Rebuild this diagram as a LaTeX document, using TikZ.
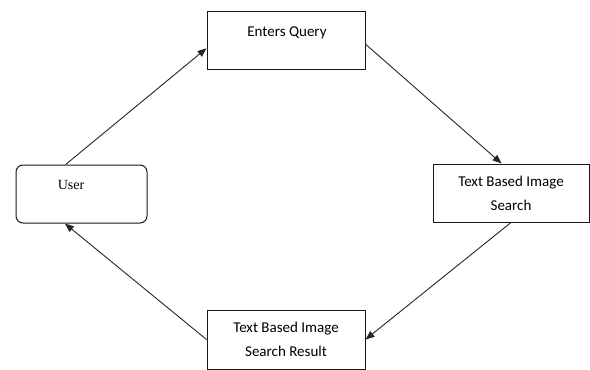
\documentclass[tikz,border=0pt]{standalone}
\usepackage{fontspec}
\setmainfont{Liberation Serif}
\newfontfamily\calib{Carlito}
\usetikzlibrary{arrows.meta,calc}
\begin{document}
\begin{tikzpicture}[x=1pt,y=-1pt,
  box/.style={draw=black!90,line width=1pt,minimum width=158pt,minimum height=58pt,inner sep=0pt,align=center,font=\calib\fontsize{15}{24}\selectfont},
  conn/.style={draw=black!85,line width=0.9pt,-{Triangle[length=9pt,width=7pt]}}]
\useasboundingbox (0,0) rectangle (590,370);
\node[box,rounded corners=7pt,minimum width=131pt] (user) at (81.5,194) {};
\node[font=\fontsize{14}{16}\selectfont] (userlabel) at (71,185) {User};
\node[box] (enters) at (286,40) {};
\node[font=\calib\fontsize{15}{18}\selectfont] (enterslabel) at (287,33) {Enters Query};
\node[box,minimum width=156pt] (tbis) at (511,193) {Text Based Image\\Search};
\node[box,minimum height=59pt] (tbsr) at (286,339.5) {Text Based Image\\Search Result};
\draw[conn] ($(user.north west)!0.38!(user.north east)$) -- ($(enters.north west)!0.64!(enters.south west)$);
\draw[conn] ($(enters.north east)!0.57!(enters.south east)$) -- ($(tbis.north west)!0.44!(tbis.north east)$);
\draw[conn] (tbis.south) -- (tbsr.east);
\draw[conn] (tbsr.west) -- ($(user.south west)!0.374!(user.south east)$);
\end{tikzpicture}
\end{document}
